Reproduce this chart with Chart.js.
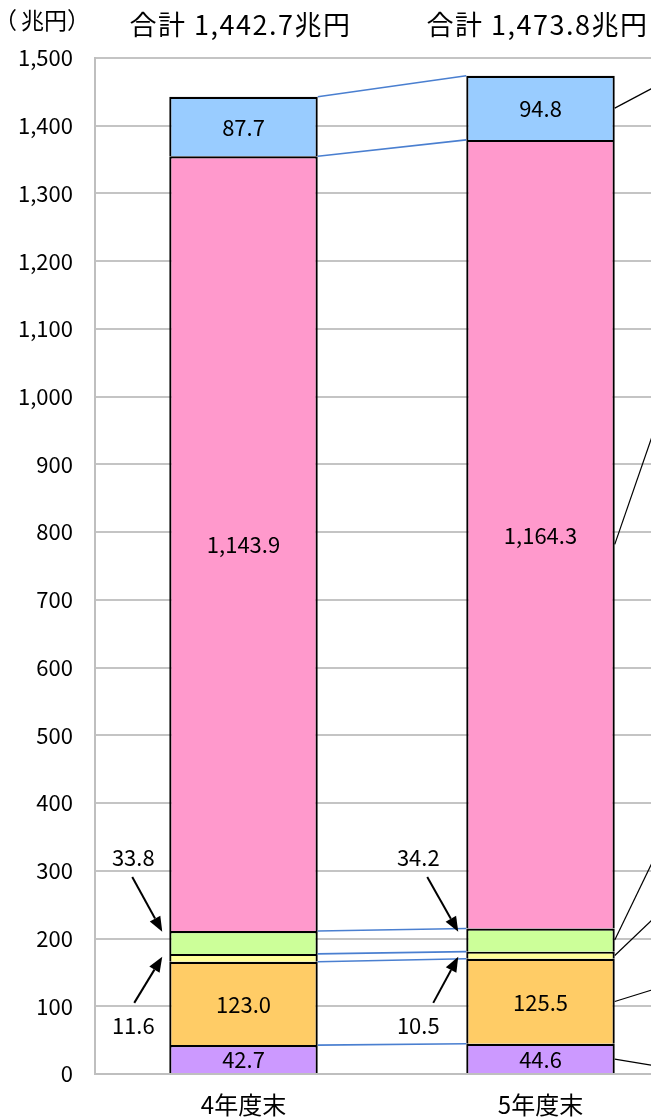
<!DOCTYPE html>
<html><head><meta charset="utf-8">
<script src="https://cdn.jsdelivr.net/npm/chart.js@4/dist/chart.umd.min.js"></script>
<style>
html,body{margin:0;padding:0;background:#fff;overflow:hidden;width:651px;height:1117px}
#wrap{width:689px;height:1117px}
</style></head>
<body><div id="wrap"><canvas id="c" width="689" height="1117"></canvas></div>
<script>
// ---- data ----
const categories = ['4年度末', '5年度末'];
const totalLabels = ['合計 1,442.7兆円', '合計 1,473.8兆円'];
const unitLabel = '（兆円）';
const purpleVals = [42.7, 44.6];
const orangeVals = [123.0, 125.5];
const yellowVals = [11.6, 10.5];
const greenVals  = [33.8, 34.2];
const pinkVals   = [1143.9, 1164.3];
const blueVals   = [87.7, 94.8];
const yMin = 0, yMax = 1500, yStep = 100;
// right-side leader lines (to labels outside the picture), value at start / value at picture edge
const leaderFrom = [22, 107, 175, 198, 782, 1426];
const leaderTo   = [13, 124, 227, 311, 940, 1455];
// outside labels with arrows (yellow = dataset 2, green = dataset 3): label value, tail value, tip value
const arrowGreen  = { label: 319, tail: 291, tip: 210 };
const arrowYellow = { label: 72, tail: 105, tip: 173 };

// ---- styles ----
const FONT = "'Noto Sans CJK JP', 'Noto Sans', sans-serif";
const seriesDefs = [
  { data: purpleVals, color: '#CC99FF', inside: true },
  { data: orangeVals, color: '#FFCC66', inside: true },
  { data: yellowVals, color: '#FFFF99', inside: false },
  { data: greenVals,  color: '#CCFF99', inside: false },
  { data: pinkVals,   color: '#FF99CC', inside: true },
  { data: blueVals,   color: '#99CCFF', inside: true },
];
const fmt = v => v.toLocaleString('en-US', { minimumFractionDigits: 1, maximumFractionDigits: 1 });

const annot = {
  id: 'annot',
  afterDatasetsDraw(chart) {
    const ctx = chart.ctx;
    const y = chart.scales.y;
    const metas = seriesDefs.map((_, i) => chart.getDatasetMeta(i));
    ctx.save();
    // connectors between bars
    ctx.strokeStyle = '#4A7FD0';
    ctx.lineWidth = 1.6;
    metas.forEach(m => {
      const a = m.data[0], b = m.data[1];
      ctx.beginPath();
      ctx.moveTo(a.x + a.width / 2, a.y);
      ctx.lineTo(b.x - b.width / 2, b.y);
      ctx.stroke();
    });
    // leader lines to the right of the second bar
    ctx.strokeStyle = '#000';
    ctx.lineWidth = 1.2;
    metas.forEach((m, i) => {
      const b = m.data[1];
      const x0 = b.x + b.width / 2;
      const y0 = y.getPixelForValue(leaderFrom[i]);
      const y1 = y.getPixelForValue(leaderTo[i]);
      ctx.beginPath();
      ctx.moveTo(x0, y0);
      ctx.lineTo(x0 + 74, y0 + 2 * (y1 - y0));
      ctx.stroke();
    });
    // inside labels
    ctx.fillStyle = '#000';
    ctx.font = '22px ' + FONT;
    ctx.textAlign = 'center';
    ctx.textBaseline = 'middle';
    metas.forEach((m, i) => {
      if (!seriesDefs[i].inside) return;
      m.data.forEach((el, j) => {
        ctx.fillText(fmt(seriesDefs[i].data[j]), el.x, (el.y + el.base) / 2 + 1);
      });
    });
    // outside labels with arrows
    const labelDx = [-36, -48];
    const tailDx = [[-37, -35], [-39, -33]];
    const tipDx = [-7, -8];
    const drawArrow = (x1, y1, x2, y2) => {
      const ang = Math.atan2(y2 - y1, x2 - x1);
      const hl = 15, hw = 6;
      const bx = x2 - hl * Math.cos(ang), by = y2 - hl * Math.sin(ang);
      ctx.beginPath();
      ctx.moveTo(x1, y1);
      ctx.lineTo(bx, by);
      ctx.lineWidth = 2;
      ctx.strokeStyle = '#000';
      ctx.stroke();
      ctx.beginPath();
      ctx.moveTo(x2, y2);
      ctx.lineTo(bx + hw * Math.sin(ang), by - hw * Math.cos(ang));
      ctx.lineTo(bx - hw * Math.sin(ang), by + hw * Math.cos(ang));
      ctx.closePath();
      ctx.fillStyle = '#000';
      ctx.fill();
    };
    [[3, arrowGreen, 0], [2, arrowYellow, 1]].forEach(([di, spec, k]) => {
      metas[di].data.forEach((el, j) => {
        const left = el.x - el.width / 2;
        ctx.fillStyle = '#000';
        ctx.font = '22px ' + FONT;
        ctx.textAlign = 'center';
        ctx.textBaseline = 'middle';
        ctx.fillText(fmt(seriesDefs[di].data[j]), left + labelDx[j], y.getPixelForValue(spec.label));
        drawArrow(left + tailDx[j][k], y.getPixelForValue(spec.tail), left + tipDx[j], y.getPixelForValue(spec.tip));
      });
    });
    // top texts
    ctx.fillStyle = '#000';
    ctx.textBaseline = 'middle';
    ctx.font = '27px ' + FONT;
    ctx.textAlign = 'center';
    try { ctx.letterSpacing = '1.5px'; } catch (e) {}
    metas[0].data.forEach((el, j) => ctx.fillText(totalLabels[j], el.x - 3, 25));
    try { ctx.letterSpacing = '0px'; } catch (e) {}
    ctx.font = '23px ' + FONT;
    ctx.textAlign = 'left';
    ctx.fillText(unitLabel.slice(0, 1), -6, 20);
    ctx.fillText(unitLabel.slice(1, 3), 21, 20);
    ctx.fillText(unitLabel.slice(3), 67, 20);
    ctx.restore();
  }
};

new Chart(document.getElementById('c'), {
  type: 'bar',
  data: {
    labels: categories,
    datasets: seriesDefs.map(s => ({
      data: s.data,
      backgroundColor: s.color,
      borderColor: '#000',
      borderWidth: 2.2,
      borderSkipped: 'start',
      barPercentage: 0.5,
      categoryPercentage: 1.0
    }))
  },
  options: {
    responsive: false,
    devicePixelRatio: 1,
    animation: false,
    locale: 'en-US',
    layout: { padding: { top: 58, left: 0, right: 0, bottom: 0 } },
    plugins: { legend: { display: false }, tooltip: { enabled: false } },
    scales: {
      x: {
        stacked: true,
        grid: { display: false, drawTicks: false },
        border: { display: true, color: '#BFBFBF', width: 2 },
        ticks: { color: '#000', font: { family: FONT, size: 24 }, padding: 16 },
        afterFit: s => { s.height = 43; }
      },
      y: {
        stacked: true,
        min: yMin, max: yMax,
        grid: { color: '#C4C4C4', lineWidth: 2, drawTicks: false },
        border: { display: true, color: '#BFBFBF', width: 2 },
        ticks: { stepSize: yStep, color: '#000', font: { family: FONT, size: 22 }, padding: 22 },
        afterFit: s => { s.width = 95; }
      }
    }
  },
  plugins: [annot]
});
</script>
</body></html>
